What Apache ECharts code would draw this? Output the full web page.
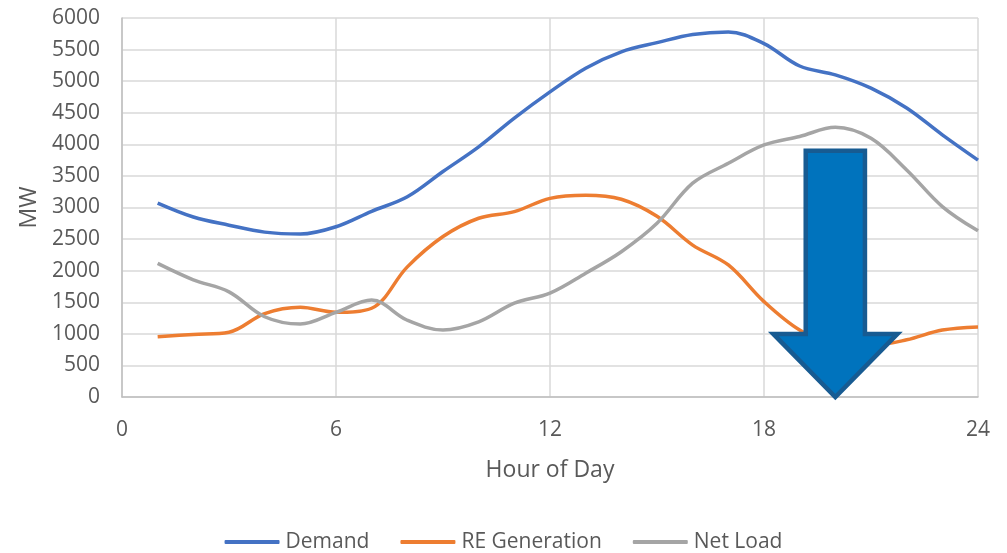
<!DOCTYPE html>
<html>
<head>
<meta charset="utf-8">
<script src="https://cdn.jsdelivr.net/npm/echarts@6/dist/echarts.min.js"></script>
<style>
  html, body { margin: 0; padding: 0; background: #ffffff; }
  #chart { width: 1007px; height: 553px; }
</style>
</head>
<body>
<div id="chart"></div>
<script>
// Hourly system values (MW), hours 1..24
const hours = [1, 2, 3, 4, 5, 6, 7, 8, 9, 10, 11, 12, 13, 14, 15, 16, 17, 18, 19, 20, 21, 22, 23, 24];
const demand = [3070, 2850, 2720, 2610, 2580, 2695, 2940, 3170, 3570, 3960, 4415, 4830, 5205, 5465, 5610, 5740, 5780, 5595, 5240, 5100, 4890, 4575, 4150, 3750];
const reGeneration = [955, 990, 1025, 1320, 1420, 1340, 1405, 2060, 2540, 2830, 2935, 3145, 3195, 3130, 2860, 2405, 2090, 1510, 1060, 830, 820, 905, 1060, 1110];
const netLoad = [2115, 1855, 1665, 1270, 1155, 1340, 1535, 1215, 1060, 1190, 1485, 1645, 1960, 2300, 2750, 3385, 3700, 3990, 4125, 4270, 4095, 3595, 3015, 2630];

// Downward arrow annotation: [hour, top MW, tip MW]
const arrow = [20, 3900, 0];

const seriesNames = ['Demand', 'RE Generation', 'Net Load'];
const seriesColors = ['#4472C4', '#ED7D31', '#A5A5A5'];
const seriesValues = [demand, reGeneration, netLoad];

const font = '"Open Sans", "Noto Sans", sans-serif';
const textColor = '#595959';

const lineSeries = seriesNames.map((name, i) => ({
  name: name,
  type: 'line',
  data: hours.map((h, k) => [h, seriesValues[i][k]]),
  smooth: 0.35,
  showSymbol: false,
  lineStyle: { color: seriesColors[i], width: 3.5 },
  itemStyle: { color: seriesColors[i] },
  z: 2 + i
}));

const arrowSeries = {
  name: 'arrow',
  type: 'custom',
  z: 10,
  silent: true,
  data: [arrow],
  renderItem: function (params, api) {
    const x = api.value(0);
    const top = api.value(1);
    const tip = api.value(2);
    const headBase = tip + (top - tip) * 0.256;
    const shaftHalf = 0.83;   // hours
    const headHalf = 1.74;    // hours
    const pts = [
      api.coord([x - shaftHalf, top]),
      api.coord([x + shaftHalf, top]),
      api.coord([x + shaftHalf, headBase]),
      api.coord([x + headHalf, headBase]),
      api.coord([x, tip]),
      api.coord([x - headHalf, headBase]),
      api.coord([x - shaftHalf, headBase])
    ];
    return {
      type: 'polygon',
      shape: { points: pts },
      style: { fill: '#0073BD', stroke: '#175B92', lineWidth: 4.5, lineJoin: 'miter' }
    };
  }
};

const chart = echarts.init(document.getElementById('chart'), null, { renderer: 'canvas' });
chart.setOption({
  animation: false,
  backgroundColor: '#ffffff',
  grid: { left: 122, right: 29, top: 18, bottom: 156, containLabel: false },
  legend: {
    data: seriesNames,
    top: 529,
    left: 'center',
    padding: 0,
    icon: 'roundRect',
    itemWidth: 55,
    itemHeight: 4,
    itemGap: 31,
    textStyle: { fontFamily: font, fontSize: 21, lineHeight: 26, color: textColor, padding: [0, 0, 0, 1] }
  },
  xAxis: {
    type: 'value',
    min: 0,
    max: 24,
    interval: 6,
    name: 'Hour of Day',
    nameLocation: 'middle',
    nameGap: 62,
    nameTextStyle: { fontFamily: font, fontSize: 23, color: textColor },
    axisLine: { show: true, lineStyle: { color: '#BFBFBF', width: 1.5 } },
    axisTick: { show: false },
    axisLabel: { fontFamily: font, fontSize: 21, color: textColor, margin: 23 },
    splitLine: { show: true, lineStyle: { color: '#D9D9D9', width: 1.5 } }
  },
  yAxis: {
    type: 'value',
    min: 0,
    max: 6000,
    interval: 500,
    name: 'MW',
    nameLocation: 'middle',
    nameGap: 80,
    nameRotate: 90,
    nameTextStyle: { fontFamily: font, fontSize: 23, color: textColor },
    axisLine: { show: true, lineStyle: { color: '#BFBFBF', width: 1.5 } },
    axisTick: { show: false },
    axisLabel: {
      fontFamily: font, fontSize: 21, color: textColor, margin: 22,
      formatter: (v) => String(v)
    },
    splitLine: { show: true, lineStyle: { color: '#D9D9D9', width: 1.5 } }
  },
  series: lineSeries.concat([arrowSeries])
});
</script>
</body>
</html>
